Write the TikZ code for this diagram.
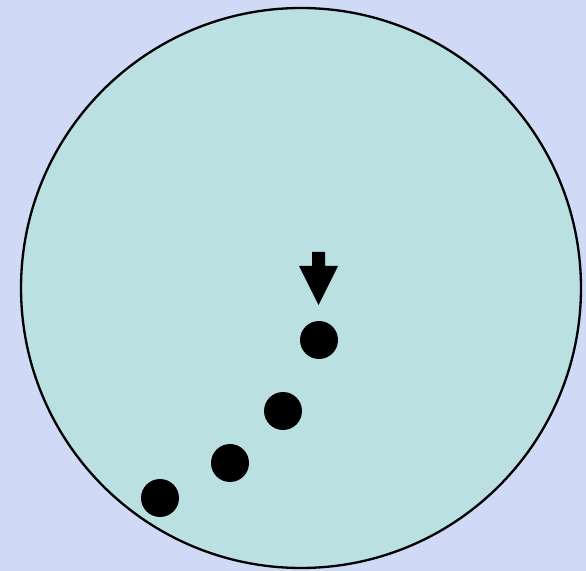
\documentclass[tikz,border=0pt]{standalone}
\usepackage{tikz}
\usetikzlibrary{positioning}
\definecolor{colBack}{RGB}{208,218,246}
\definecolor{colDish}{RGB}{186,224,226}

\begin{document}
\begin{tikzpicture}[
  x=0.05cm, y=-0.05cm,
  dish/.style={circle, draw, line width=3.3pt, fill=colDish, minimum size=28cm, inner sep=0pt},
  dot/.style={circle, fill=black, minimum size=1.9cm, inner sep=0pt},
]

% background
\fill[colBack] (0,0) rectangle (586,571);
\useasboundingbox (0,0) rectangle (586,571);

% dish
\node[dish] (plate) at (301,288) {};

% dots
\foreach \px/\py [count=\i] in {319/340, 283/411, 230/463, 160/498}
  \node[dot] (dot\i) at (\px,\py) {};

% arrow
\fill (312,252) -- (325,252) -- (325,266) -- (338,266) -- (318.5,305)
  -- (299,266) -- (312,266) -- cycle;

\end{tikzpicture}
\end{document}
